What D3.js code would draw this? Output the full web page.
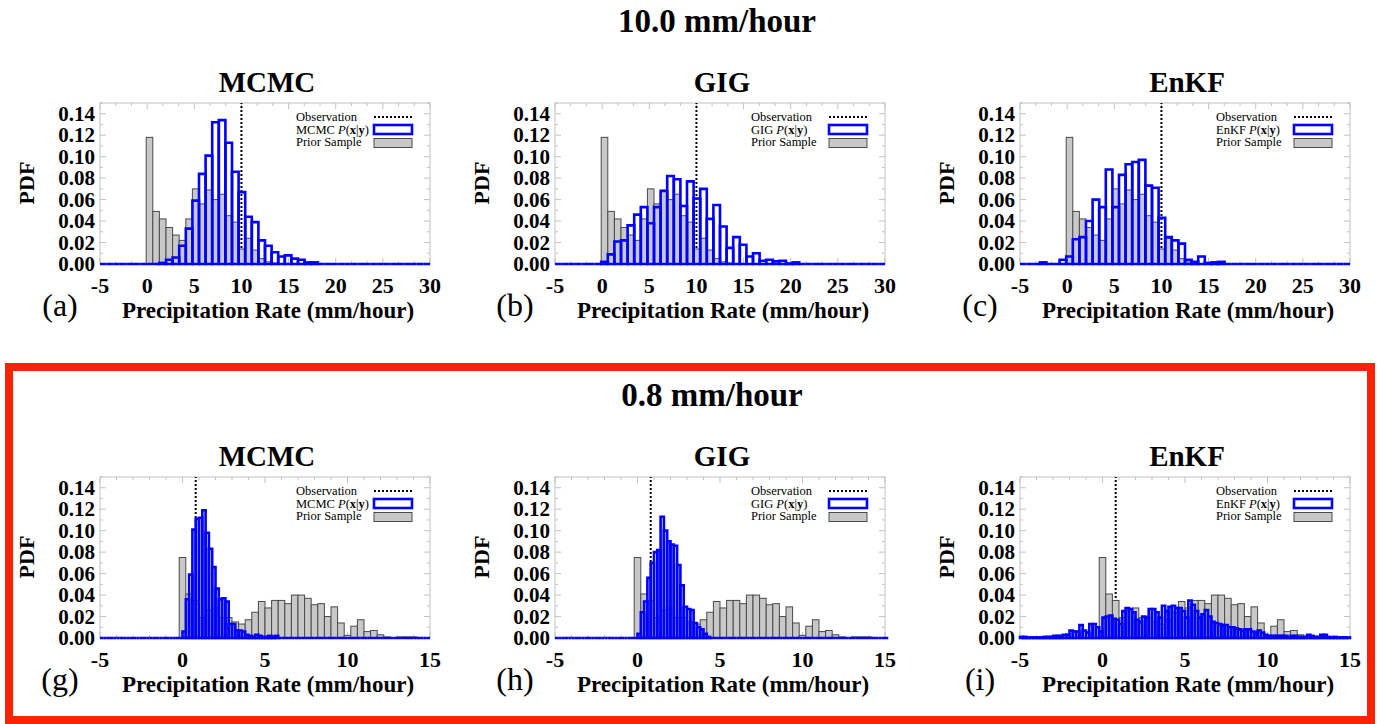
<!DOCTYPE html>
<html>
<head>
<meta charset="utf-8">
<script src="https://cdn.jsdelivr.net/npm/d3@7"></script>
<style>
  body { margin: 0; background: #ffffff; }
  svg { display: block; }
  text { font-family: "Liberation Serif", "Times New Roman", serif; fill: #000; }
</style>
</head>
<body>
<svg id="chart" width="1380" height="724"></svg>
<script>
// ---- Binned PDFs -------------------------------------------------------
// 10.0 mm/hour case: 50 bins of width 0.7 starting at -5
const heavyBinStart = -5, heavyBinWidth = 0.7;
const heavyPrior = [0,0,0,0,0,0,0,
  .118,.049,.042,.034,.027,.022,.042,.070,.056,.069,.060,.065,.045,.039,.014,.024,.013,.005,.002,.001,
  0,0,0,0,0,0,0,0,0,0,0,0,0,0,0,0,0,0,0,0,0,0,0];
const heavyMCMC = [0,0,0,0,0,0,0,0,0,
  .001,.004,.006,.017,.033,.059,.084,.101,.132,.134,.113,.086,.067,.044,.039,.022,.017,.011,.007,.008,.005,.004,.0015,.0015,
  0,0,0,0,0,0,0,0,0,0,0,0,0,0,0,0,0];
const heavyGIG = [0,0,0,0,0,0,0,
  .002,.009,.021,.022,.036,.046,.053,.038,.053,.068,.082,.079,.054,.077,.061,.070,.042,.055,.035,.015,.025,.018,.007,.010,.003,.004,.0025,.003,.0005,.0015,
  0,0,0,0,0,0,0,0,0,0,0,0,0];
const heavyEnKF = [0,0,0,.0015,0,0,
  .004,.007,.023,.025,.040,.060,.053,.088,.053,.083,.093,.095,.097,.073,.071,.043,.025,.022,.019,.004,.002,.007,.001,.0015,.002,
  0,0,0,0,0,0,0,0,0,0,0,0,0,0,0,0,0,0,0];

// 0.8 mm/hour case: prior in 50 bins of 0.4, posteriors in 100 bins of 0.2
const lightBinStart = -5, lightPriorWidth = 0.4, lightPostWidth = 0.2;
const lightPrior = [0,0,0,0,0,0,0,0,0,0,0,0,
  .075,.041,.035,.019,.026,.028,.019,.019,.015,.013,.017,.024,.034,.028,.035,.035,.032,.040,.040,.037,.031,.032,.020,.029,.014,.0025,.011,.017,.006,.007,.003,.001,0,.001,.001,.001,0,0];
const lightMCMC = [0,0,0,0,0,0,0,0,0,0,0,0,0,0,0,0,0,0,0,0,0,0,0,0,0,
  .006,.036,.059,.101,.111,.112,.119,.098,.083,.066,.046,.036,.037,.034,.013,.013,.007,.007,.006,.003,.002,.001,.003,.002,.001,.001,.002,.001,.002,
  0,0,0,0,0,0,0,0,0,0,0,0,0,0,0,0,0,0,0,0,0,0,0,0,0,0,0,0,0,0,0,0,0,0,0,0,0,0,0,0,0,0,0,0,0,0];
const lightGIG = [0,0,0,0,0,0,0,0,0,0,0,0,0,0,0,0,0,0,0,0,0,0,0,0,0,
  .004,.024,.034,.056,.070,.080,.082,.113,.100,.090,.087,.086,.068,.049,.029,.027,.026,.014,.010,.008,.004,.001,
  0,0,0,0,0,0,0,0,0,0,0,0,0,0,0,0,0,0,0,0,0,0,0,0,0,0,0,0,0,0,0,0,0,0,0,0,0,0,0,0,0,0,0,0,0,0,0,0,0,0,0,0,0,0];
const lightEnKF = [.001,.001,.0005,.0005,.0005,.0005,.0005,.001,.001,.001,
  .002,.002,.002,.003,.003,.007,.006,.006,.012,.007,
  .005,.013,.013,.010,.006,.019,.020,.021,.018,.017,
  .013,.025,.028,.027,.024,.017,.015,.020,.019,.027,
  .027,.024,.019,.030,.025,.029,.030,.028,.028,.025,
  .019,.035,.031,.025,.019,.022,.026,.020,.015,.014,
  .013,.012,.012,.010,.010,.009,.008,.007,.008,.008,
  .006,.005,.007,.005,.003,.002,.002,.002,.002,.002,
  .002,.001,.002,.002,.001,.001,.001,.003,.002,.001,
  .001,.003,.003,.001,.0005,.001,.0005,.0005,.0005,.0005];

// observed precipitation for each case
const obsHeavy = 10.0, obsLight = 0.8;
const methods = ["MCMC", "GIG", "EnKF"];
const heavyTags = ["(a)", "(b)", "(c)"];
const lightTags = ["(g)", "(h)", "(i)"];
const heavyXTicks = [-5, 0, 5, 10, 15, 20, 25, 30];
const lightXTicks = [-5, 0, 5, 10, 15];
const yTicks = [0, 0.02, 0.04, 0.06, 0.08, 0.10, 0.12, 0.14];

// ---- Layout -----------------------------------------------------------
const svg = d3.select("#chart");
const PW = 330, PH = 161;
const panelLefts = [100, 555, 1020];
const BLUE = "#0000ff", GREY_FILL = "#c8c8c8", GREY_EDGE = "#4a4a4a", FRAME = "#c2c2c2";

function drawPanel(left, top, o) {
  const x = d3.scaleLinear().domain(o.xDomain).range([left, left + PW]);
  const y = d3.scaleLinear().domain([0, 0.15]).range([top + PH, top]);
  const g = svg.append("g");

  // frame with inward ticks on all four sides
  g.append("rect").attr("x", left).attr("y", top).attr("width", PW).attr("height", PH)
    .attr("fill", "none").attr("stroke", FRAME).attr("stroke-width", 1);
  const xMinor = d3.range(o.xDomain[0], o.xDomain[1] + 1e-9, o.xMinorStep);
  const yMinor = d3.range(0, 0.15 + 1e-9, 0.01);
  const tickG = g.append("g").attr("stroke", FRAME).attr("stroke-width", 1);
  xMinor.forEach(t => {
    const major = o.xTicks.some(m => Math.abs(m - t) < 1e-6);
    const len = major ? 6 : 3;
    tickG.append("line").attr("x1", x(t)).attr("x2", x(t)).attr("y1", top + PH).attr("y2", top + PH - len);
    tickG.append("line").attr("x1", x(t)).attr("x2", x(t)).attr("y1", top).attr("y2", top + len);
  });
  yMinor.forEach(t => {
    const major = Math.round(t * 100) % 2 === 0;
    const len = major ? 6 : 3;
    tickG.append("line").attr("y1", y(t)).attr("y2", y(t)).attr("x1", left).attr("x2", left + len);
    tickG.append("line").attr("y1", y(t)).attr("y2", y(t)).attr("x1", left + PW).attr("x2", left + PW - len);
  });

  // observation line
  g.append("line").attr("x1", x(o.obs)).attr("x2", x(o.obs)).attr("y1", y(0)).attr("y2", top)
    .attr("stroke", "#000").attr("stroke-width", 2).attr("stroke-dasharray", "2,2");

  // prior sample histogram
  const prior = o.prior.map((v, i) => ({ x0: o.binStart + i * o.priorWidth, v }))
    .filter(d => d.v > 0);
  g.append("g").selectAll("rect").data(prior).join("rect")
    .attr("x", d => x(d.x0)).attr("width", d => x(d.x0 + o.priorWidth) - x(d.x0))
    .attr("y", d => y(d.v)).attr("height", d => y(0) - y(d.v))
    .attr("fill", GREY_FILL).attr("stroke", GREY_EDGE).attr("stroke-width", 1);

  // posterior histogram outline
  const post = o.post.map((v, i) => ({ x0: o.binStart + i * o.postWidth, v }));
  g.append("g").selectAll("path").data(post).join("path")
    .attr("d", d => `M${x(d.x0)},${y(0)}V${y(d.v)}H${x(d.x0 + o.postWidth)}V${y(0)}Z`)
    .attr("fill", "none").attr("stroke", BLUE).attr("stroke-width", 2.6)
    .attr("stroke-linejoin", "miter");

  // tick labels
  g.append("g").selectAll("text").data(yTicks).join("text")
    .attr("x", left - 5).attr("y", d => y(d)).attr("dy", "0.34em")
    .attr("text-anchor", "end").attr("font-weight", "bold").attr("font-size", 21)
    .text(d => d.toFixed(2));
  g.append("g").selectAll("text").data(o.xTicks).join("text")
    .attr("x", d => x(d)).attr("y", top + PH + 29)
    .attr("text-anchor", "middle").attr("font-weight", "bold").attr("font-size", 22)
    .text(d => d);

  // axis titles, panel title and tag
  g.append("text").attr("x", left + PW / 2 + 3).attr("y", top + PH + 54)
    .attr("text-anchor", "middle").attr("font-weight", "bold").attr("font-size", 23)
    .text("Precipitation Rate (mm/hour)");
  g.append("text").attr("transform", `translate(${left - 66},${top + 80}) rotate(-90)`)
    .attr("text-anchor", "middle").attr("font-weight", "bold").attr("font-size", 22)
    .text("PDF");
  g.append("text").attr("x", left + PW / 2 + 2).attr("y", top - 11)
    .attr("text-anchor", "middle").attr("font-weight", "bold").attr("font-size", 29)
    .text(o.title);
  g.append("text").attr("x", left - 40).attr("y", top + PH + 52)
    .attr("text-anchor", "middle").attr("font-size", 32)
    .text(o.tag);

  // legend
  const lx = left + 196, sx0 = left + 274, sx1 = left + 312;
  const lg = g.append("g").attr("font-size", 12.5);
  lg.append("text").attr("x", lx).attr("y", top + 18).text("Observation");
  const t2 = lg.append("text").attr("x", lx).attr("y", top + 30.5);
  t2.append("tspan").text(o.title + " ");
  t2.append("tspan").attr("font-style", "italic").text("P");
  t2.append("tspan").text("(");
  t2.append("tspan").attr("font-weight", "bold").text("x");
  t2.append("tspan").text("|");
  t2.append("tspan").attr("font-weight", "bold").text("y");
  t2.append("tspan").text(")");
  lg.append("text").attr("x", lx).attr("y", top + 43).text("Prior Sample");
  lg.append("line").attr("x1", sx0).attr("x2", sx1).attr("y1", top + 14).attr("y2", top + 14)
    .attr("stroke", "#000").attr("stroke-width", 2).attr("stroke-dasharray", "2,2");
  lg.append("rect").attr("x", sx0).attr("y", top + 22).attr("width", sx1 - sx0).attr("height", 9)
    .attr("fill", "#fff").attr("stroke", BLUE).attr("stroke-width", 2.6);
  lg.append("rect").attr("x", sx0).attr("y", top + 35.5).attr("width", sx1 - sx0).attr("height", 9)
    .attr("fill", GREY_FILL).attr("stroke", GREY_EDGE).attr("stroke-width", 1);
}

// ---- Heavy rain row ----------------------------------------------------
svg.append("text").attr("x", 717).attr("y", 32).attr("text-anchor", "middle")
  .attr("font-weight", "bold").attr("font-size", 33).text("10.0 mm/hour");
[heavyMCMC, heavyGIG, heavyEnKF].forEach((post, i) => drawPanel(panelLefts[i], 103, {
  xDomain: [-5, 30], xTicks: heavyXTicks, xMinorStep: 5 / 3,
  prior: heavyPrior, post, binStart: heavyBinStart, priorWidth: heavyBinWidth, postWidth: heavyBinWidth,
  obs: obsHeavy, title: methods[i], tag: heavyTags[i]
}));

// ---- Light rain row (highlighted) --------------------------------------
svg.append("rect").attr("x", 9).attr("y", 367).attr("width", 1362).attr("height", 353)
  .attr("fill", "none").attr("stroke", "#ff2200").attr("stroke-width", 8);
svg.append("text").attr("x", 712).attr("y", 406).attr("text-anchor", "middle")
  .attr("font-weight", "bold").attr("font-size", 33).text("0.8 mm/hour");
[lightMCMC, lightGIG, lightEnKF].forEach((post, i) => drawPanel(panelLefts[i], 477, {
  xDomain: [-5, 15], xTicks: lightXTicks, xMinorStep: 1,
  prior: lightPrior, post, binStart: lightBinStart, priorWidth: lightPriorWidth, postWidth: lightPostWidth,
  obs: obsLight, title: methods[i], tag: lightTags[i]
}));
</script>
</body>
</html>
